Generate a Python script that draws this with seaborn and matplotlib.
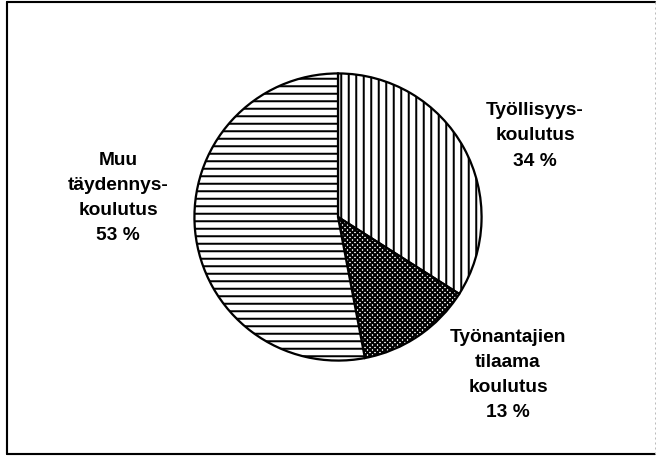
import matplotlib
matplotlib.use("Agg")
import matplotlib.pyplot as plt
import seaborn as sns
from matplotlib.lines import Line2D

categories = ["Työllisyys-\nkoulutus", "Työnantajien\ntilaama\nkoulutus", "Muu\ntäydennys-\nkoulutus"]
values = [34, 13, 53]
hatches = ["||", "xxxxxx", "--"]

sns.set_theme(style="white")
plt.rcParams['font.family'] = ['Liberation Sans', 'DejaVu Sans']
plt.rcParams['hatch.linewidth'] = 1.6
plt.rcParams['hatch.color'] = 'black'

DPI = 90
W, H = 663, 459
fig = plt.figure(figsize=(W / DPI, H / DPI), dpi=DPI, facecolor='white')

cx, cy, r = 338, 218, 145
ax = fig.add_axes([(cx - r) / W, 1 - (cy + r) / H, 2 * r / W, 2 * r / H])
wedges, _ = ax.pie(values, startangle=90, counterclock=False, radius=1,
                   colors=['white'] * len(values),
                   wedgeprops=dict(edgecolor='black', linewidth=1.8))
for w, h in zip(wedges, hatches):
    w.set_hatch(h)
ax.set_xlim(-1.01, 1.01)
ax.set_ylim(-1.01, 1.01)
ax.axis('off')

# labels (pixel positions of block centres)
label_pos = [(535, 136), (508, 375), (118, 198)]
for cat, v, (px, py) in zip(categories, values, label_pos):
    fig.text(px / W, 1 - py / H, f"{cat}\n{v} %", ha='center', va='center',
             fontsize=15.3, fontweight='bold', linespacing=1.62, color='black')

# frame
lw = 1.7
fig.add_artist(Line2D([7 / W, 7 / W], [1 - 3 / H, 1 - 455 / H], color='black', lw=lw))
fig.add_artist(Line2D([7 / W, 655 / W], [1 - 3 / H, 1 - 3 / H], color='black', lw=lw))
fig.add_artist(Line2D([7 / W, 655 / W], [1 - 455 / H, 1 - 455 / H], color='black', lw=lw))
fig.add_artist(Line2D([655 / W, 655 / W], [1 - 3 / H, 1 - 455 / H], color='#bbbbbb', lw=0.8, ls=(0, (2, 3))))

fig.savefig("out.png", dpi=DPI, facecolor='white')
